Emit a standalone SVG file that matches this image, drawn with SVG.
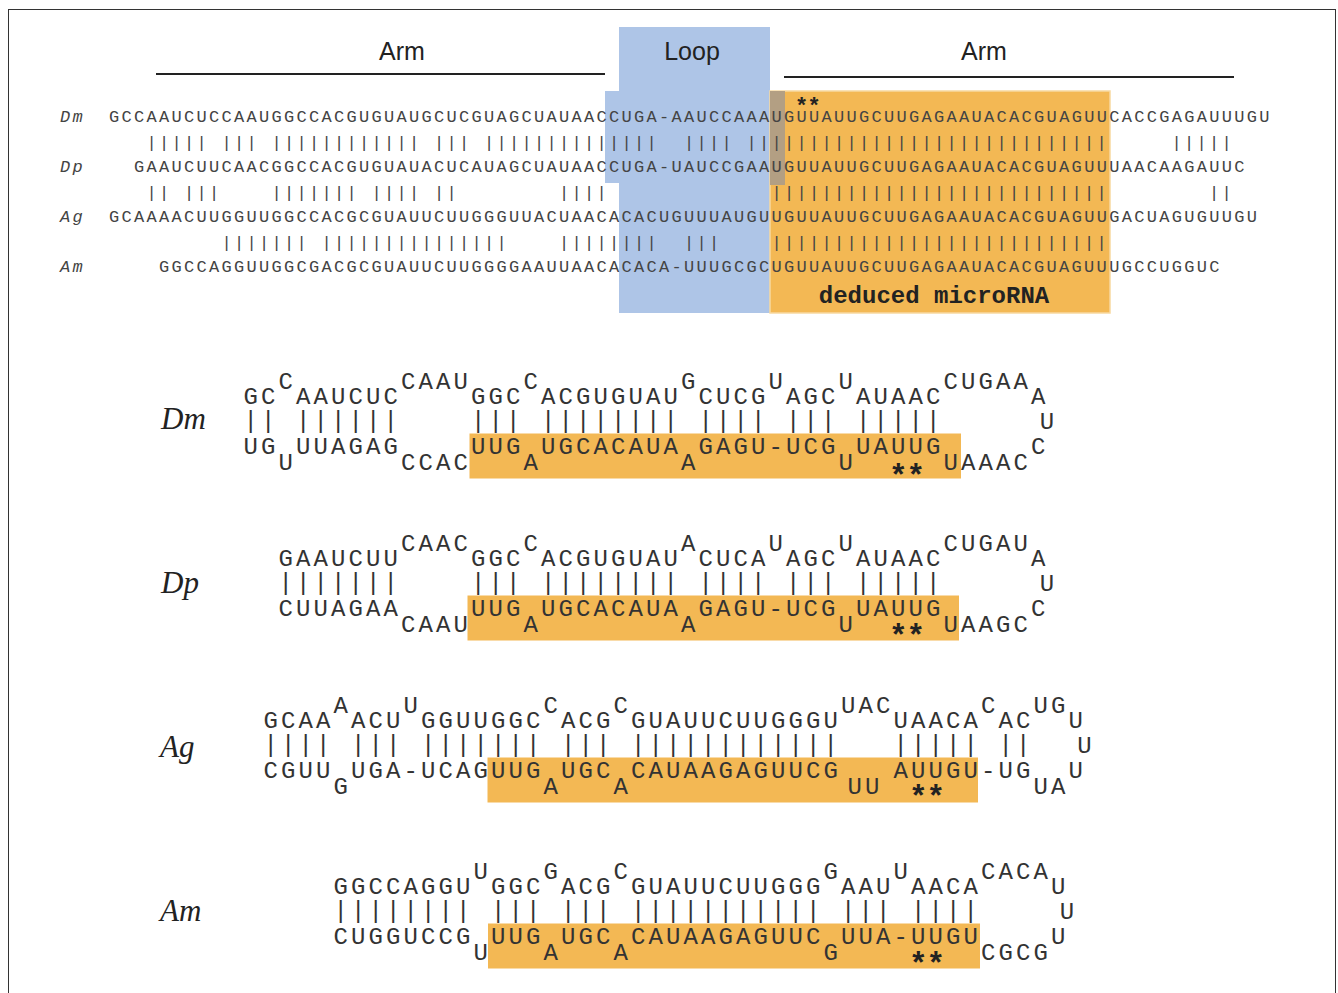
<svg xmlns="http://www.w3.org/2000/svg" width="1338" height="993" viewBox="0 0 1338 993">
<style>
.a{font-family:"Liberation Mono",monospace;font-size:17px;letter-spacing:2.3px;fill:#444}
.ai{font-family:"Liberation Mono",monospace;font-size:17px;letter-spacing:2.3px;font-style:italic;fill:#444}
.s{font-family:"Liberation Mono",monospace;font-size:24px;letter-spacing:3.1px;fill:#333}
.st{font-family:"Liberation Mono",monospace;font-size:31px;letter-spacing:-1.1px;font-weight:bold;fill:#222}
.sp{font-family:"Liberation Mono",monospace;font-size:24px;letter-spacing:3.1px;fill:#333}
.lab{font-family:"Liberation Serif",serif;font-size:31px;font-style:italic;fill:#222}
.hd{font-family:"Liberation Sans",Arial,sans-serif;font-size:25px;fill:#222;text-anchor:middle}
.mir{fill:#f3b854}
.blue{fill:#aec5e7}
</style>
<rect x="8.5" y="9.5" width="1327" height="1000" fill="#fff" stroke="#333" stroke-width="1"/>

<g id="header">
 <rect class="blue" x="619" y="27" width="151" height="286"/>
 <rect class="blue" x="605" y="91" width="165" height="92"/>
 <rect class="mir" x="770" y="91" width="340" height="222" stroke="#f8d9a0" stroke-width="1.5"/>
 <rect x="770" y="91" width="15" height="94" fill="#b39f83"/>
 <text class="hd" x="402" y="60">Arm</text>
 <text class="hd" x="692" y="60">Loop</text>
 <text class="hd" x="984" y="60">Arm</text>
 <line x1="156" y1="74" x2="605" y2="74" stroke="#222" stroke-width="2"/>
 <line x1="784" y1="77" x2="1234" y2="77" stroke="#222" stroke-width="2"/>
</g>

<g id="alignment">
 <text class="st" style="font-size:22px;letter-spacing:-0.7px" x="795" y="113">**</text>
 <text class="ai" x="60" y="122">Dm</text>
 <text class="ai" x="60" y="172">Dp</text>
 <text class="ai" x="60" y="222">Ag</text>
 <text class="ai" x="60" y="272">Am</text>
 <text class="a" x="109" y="122">GCCAAUCUCCAAUGGCCACGUGUAUGCUCGUAGCUAUAACCUGA-AAUCCAAAUGUUAUUGCUUGAGAAUACACGUAGUUCACCGAGAUUUGU</text>
 <text class="a" x="134" y="172">GAAUCUUCAACGGCCACGUGUAUACUCAUAGCUAUAACCUGA-UAUCCGAAUGUUAUUGCUUGAGAAUACACGUAGUUUAACAAGAUUC</text>
 <text class="a" x="109" y="222">GCAAAACUUGGUUGGCCACGCGUAUUCUUGGGUUACUAACACACUGUUUAUGUUGUUAUUGCUUGAGAAUACACGUAGUUGACUAGUGUUGU</text>
 <text class="a" x="159" y="272">GGCCAGGUUGGCGACGCGUAUUCUUGGGGAAUUAACACACA-UUUGCGCUGUUAUUGCUUGAGAAUACACGUAGUUUGCCUGGUC</text>
 <text class="a" y="148"><tspan x="146.5">|||||</tspan><tspan x="221.5">|||</tspan><tspan x="271.5">||||||||||||</tspan><tspan x="434">|||</tspan><tspan x="484">||||||||||||||</tspan><tspan x="684">||||</tspan><tspan x="746.5">|||||||||||||||||||||||||||||</tspan><tspan x="1171.5">|||||</tspan></text>
 <text class="a" y="198"><tspan x="146.5">||</tspan><tspan x="184">|||</tspan><tspan x="271.5">|||||||</tspan><tspan x="371.5">||||</tspan><tspan x="434">||</tspan><tspan x="559">||||</tspan><tspan x="771.5">|||||||||||||||||||||||||||</tspan><tspan x="1209">||</tspan></text>
 <text class="a" y="248"><tspan x="221.5">|||||||</tspan><tspan x="321.5">|||||||||||||||</tspan><tspan x="559">||||||||</tspan><tspan x="684">|||</tspan><tspan x="771.5">|||||||||||||||||||||||||||</tspan></text>
 <text x="934" y="303" text-anchor="middle" style="font-family:'Liberation Mono',monospace;font-size:24px;font-weight:bold;fill:#222">deduced microRNA</text>
</g>

<g id="hairpin-Dm">
 <text class="lab" x="161" y="429">Dm</text>
 <g transform="translate(242,404)">
  <rect class="mir" x="227.5" y="29.5" width="491.5" height="45"/>
  <text class="s" y="-15"><tspan x="36.5">C</tspan><tspan x="159">CAAU</tspan><tspan x="281.5">C</tspan><tspan x="439">G</tspan><tspan x="526.5">U</tspan><tspan x="596.5">U</tspan><tspan x="701.5">CUGAA</tspan></text>
  <text class="s" y="0"><tspan x="1.5">GC</tspan><tspan x="54">AAUCUC</tspan><tspan x="229">GGC</tspan><tspan x="299">ACGUGUAU</tspan><tspan x="456.5">CUCG</tspan><tspan x="544">AGC</tspan><tspan x="614">AUAAC</tspan><tspan x="789">A</tspan></text>
  <text class="sp" y="24"><tspan x="1.5">||</tspan><tspan x="54">||||||</tspan><tspan x="229">|||</tspan><tspan x="299">||||||||</tspan><tspan x="456.5">||||</tspan><tspan x="544">|||</tspan><tspan x="614">|||||</tspan></text>
  <text class="s" x="797.75" y="25">U</text>
  <text class="s" y="50"><tspan x="1.5">UG</tspan><tspan x="54">UUAGAG</tspan><tspan x="229">UUG</tspan><tspan x="299">UGCACAUA</tspan><tspan x="456.5">GAGU-UCG</tspan><tspan x="614">UAUUG</tspan><tspan x="789">C</tspan></text>
  <text class="s" y="66"><tspan x="36.5">U</tspan><tspan x="159">CCAC</tspan><tspan x="281.5">A</tspan><tspan x="439">A</tspan><tspan x="596.5">U</tspan><tspan x="701.5">UAAAC</tspan></text>
  <text class="st" x="647" y="82">**</text>
 </g>
</g>

<g id="hairpin-Dp">
 <text class="lab" x="161" y="593">Dp</text>
 <g transform="translate(242,566)">
  <rect class="mir" x="225.5" y="29.5" width="491.5" height="45"/>
  <text class="s" y="-15"><tspan x="159">CAAC</tspan><tspan x="281.5">C</tspan><tspan x="439">A</tspan><tspan x="526.5">U</tspan><tspan x="596.5">U</tspan><tspan x="701.5">CUGAU</tspan></text>
  <text class="s" y="0"><tspan x="36.5">GAAUCUU</tspan><tspan x="229">GGC</tspan><tspan x="299">ACGUGUAU</tspan><tspan x="456.5">CUCA</tspan><tspan x="544">AGC</tspan><tspan x="614">AUAAC</tspan><tspan x="789">A</tspan></text>
  <text class="sp" y="24"><tspan x="36.5">|||||||</tspan><tspan x="229">|||</tspan><tspan x="299">||||||||</tspan><tspan x="456.5">||||</tspan><tspan x="544">|||</tspan><tspan x="614">|||||</tspan></text>
  <text class="s" x="797.75" y="25">U</text>
  <text class="s" y="50"><tspan x="36.5">CUUAGAA</tspan><tspan x="229">UUG</tspan><tspan x="299">UGCACAUA</tspan><tspan x="456.5">GAGU-UCG</tspan><tspan x="614">UAUUG</tspan><tspan x="789">C</tspan></text>
  <text class="s" y="66"><tspan x="159">CAAU</tspan><tspan x="281.5">A</tspan><tspan x="439">A</tspan><tspan x="596.5">U</tspan><tspan x="701.5">UAAGC</tspan></text>
  <text class="st" x="647" y="80">**</text>
 </g>
</g>

<g id="hairpin-Ag">
 <text class="lab" x="160" y="757">Ag</text>
 <g transform="translate(262,728)">
  <rect class="mir" x="225.5" y="29.5" width="490.5" height="45"/>
  <text class="s" y="-15"><tspan x="71.5">A</tspan><tspan x="141.5">U</tspan><tspan x="281.5">C</tspan><tspan x="351.5">C</tspan><tspan x="579">UAC</tspan><tspan x="719">C</tspan><tspan x="771.5">UG</tspan></text>
  <text class="s" y="0"><tspan x="1.5">GCAA</tspan><tspan x="89">ACU</tspan><tspan x="159">GGUUGGC</tspan><tspan x="299">ACG</tspan><tspan x="369">GUAUUCUUGGGU</tspan><tspan x="631.5">UAACA</tspan><tspan x="736.5">AC</tspan><tspan x="806.5">U</tspan></text>
  <text class="sp" y="24"><tspan x="1.5">||||</tspan><tspan x="89">|||</tspan><tspan x="159">|||||||</tspan><tspan x="299">|||</tspan><tspan x="369">||||||||||||</tspan><tspan x="631.5">|||||</tspan><tspan x="736.5">||</tspan></text>
  <text class="s" x="815.25" y="25">U</text>
  <text class="s" y="50"><tspan x="1.5">CGUU</tspan><tspan x="89">UGA-UCAG</tspan><tspan x="229">UUG</tspan><tspan x="299">UGC</tspan><tspan x="369">CAUAAGAGUUCG</tspan><tspan x="631.5">AUUGU-UG</tspan><tspan x="806.5">U</tspan></text>
  <text class="s" y="66"><tspan x="71.5">G</tspan><tspan x="281.5">A</tspan><tspan x="351.5">A</tspan><tspan x="585.5">UU</tspan><tspan x="771.5">UA</tspan></text>
  <text class="st" x="647" y="79">**</text>
 </g>
</g>

<g id="hairpin-Am">
 <text class="lab" x="160" y="921">Am</text>
 <g transform="translate(332,894)">
  <rect class="mir" x="156" y="29.5" width="492" height="45"/>
  <text class="s" y="-15"><tspan x="141.5">U</tspan><tspan x="211.5">G</tspan><tspan x="281.5">C</tspan><tspan x="491.5">G</tspan><tspan x="561.5">U</tspan><tspan x="649">CACA</tspan></text>
  <text class="s" y="0"><tspan x="1.5">GGCCAGGU</tspan><tspan x="159">GGC</tspan><tspan x="229">ACG</tspan><tspan x="299">GUAUUCUUGGG</tspan><tspan x="509">AAU</tspan><tspan x="579">AACA</tspan><tspan x="719">U</tspan></text>
  <text class="sp" y="24"><tspan x="1.5">||||||||</tspan><tspan x="159">|||</tspan><tspan x="229">|||</tspan><tspan x="299">|||||||||||</tspan><tspan x="509">|||</tspan><tspan x="579">||||</tspan></text>
  <text class="s" x="727.75" y="25">U</text>
  <text class="s" y="50"><tspan x="1.5">CUGGUCCG</tspan><tspan x="159">UUG</tspan><tspan x="229">UGC</tspan><tspan x="299">CAUAAGAGUUC</tspan><tspan x="509">UUA-UUGU</tspan><tspan x="719">U</tspan></text>
  <text class="s" y="66"><tspan x="141.5">U</tspan><tspan x="211.5">A</tspan><tspan x="281.5">A</tspan><tspan x="491.5">G</tspan><tspan x="649">CGCG</tspan></text>
  <text class="st" x="577" y="80">**</text>
 </g>
</g>
</svg>
